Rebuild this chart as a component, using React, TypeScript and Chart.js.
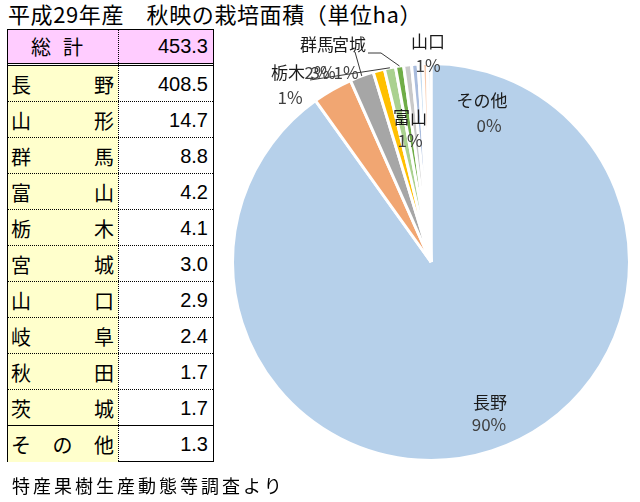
import React, { useEffect, useRef } from 'react';
import { Chart, registerables } from 'chart.js';

Chart.register(...registerables);

const titleText = '平成29年産　秋映の栽培面積（単位ha）';
const sourceText = '特産果樹生産動態等調査より';
const totalName = '総計';
const totalValue = 453.3;
const categories = ['長野', '山形', '群馬', '富山', '栃木', '宮城', '山口', '岐阜', '秋田', '茨城', 'その他'];
const values = [408.5, 14.7, 8.8, 4.2, 4.1, 3.0, 2.9, 2.4, 1.7, 1.7, 1.3];
const sliceColors = ['#B6D0EA', '#F1A672', '#A6A6A6', '#FFC000', '#AAD18F', '#70AD47', '#C9C9C9', '#A9BCDD', '#C5DCF0', '#F8CBAD', '#DEEBF7'];

// label placement (canvas coords)
const labelLayout: Record<number, { n?: [number, number]; p?: [number, number]; lead?: [number, number][] }> = {
  0: { n: [268, 373], p: [267, 395] },
  1: { p: [101, 43] },
  2: { n: [95, 15], p: [95, 43] },
  4: { n: [66, 43], p: [68, 68], lead: [[88, 50]] },
  5: { n: [127, 15], p: [124, 43], lead: [[146, 23], [159, 23]] },
  6: { n: [206, 12], p: [206, 36] },
  3: { n: [188, 88], p: [188, 111] },
  10: { n: [260, 71], p: [267, 96] },
};
const gunmaLead: [number, number] = [133, 22];

const labelPlugin = {
  id: 'pieLabels',
  afterDatasetsDraw(chart: any) {
    const ctx = chart.ctx;
    const meta = chart.getDatasetMeta(0);
    ctx.save();
    ctx.font = '17px "Noto Sans CJK JP", sans-serif';
    ctx.textAlign = 'center';
    ctx.textBaseline = 'middle';
    ctx.strokeStyle = '#3a3a3a';
    ctx.lineWidth = 1;
    const edge = (i: number) => {
      const a: any = meta.data[i];
      const mid = (a.startAngle + a.endAngle) / 2;
      return [a.x + Math.cos(mid) * a.outerRadius, a.y + Math.sin(mid) * a.outerRadius];
    };
    [4, 5].forEach((i) => {
      const L = labelLayout[i];
      if (!L.lead) return;
      const [ex, ey] = edge(i);
      ctx.beginPath();
      ctx.moveTo(L.lead[0][0], L.lead[0][1]);
      for (let k = 1; k < L.lead.length; k++) ctx.lineTo(L.lead[k][0], L.lead[k][1]);
      ctx.lineTo(ex, ey);
      ctx.stroke();
    });
    {
      const [ex, ey] = edge(2);
      ctx.beginPath();
      ctx.moveTo(gunmaLead[0], gunmaLead[1]);
      ctx.lineTo(ex, ey);
      ctx.stroke();
    }
    const order = [0, 10, 3, 6, 1, 2, 5, 4];
    order.forEach((i) => {
      const L = labelLayout[i];
      const pct = Math.round((values[i] / totalValue) * 100) + '%';
      ctx.fillStyle = '#1a1a1a';
      if (L.n) ctx.fillText(categories[i], L.n[0], L.n[1]);
      ctx.fillStyle = '#404040';
      if (L.p) ctx.fillText(pct, L.p[0], L.p[1]);
    });
    ctx.restore();
  },
};

const cellFont = '"Noto Sans CJK JP", sans-serif';
const numFont = '"Liberation Sans", Arial, sans-serif';

function NameCell({ name }: { name: string }) {
  const chars = Array.from(name);
  return (
    <div style={{ display: 'flex', justifyContent: 'space-between', alignItems: 'center', height: '100%', padding: '0 4px 0 3px', boxSizing: 'border-box' }}>
      {chars.map((c, i) => (
        <span key={i}>{c}</span>
      ))}
    </div>
  );
}

export default function App() {
  const ref = useRef<HTMLCanvasElement | null>(null);
  useEffect(() => {
    document.body.style.margin = '0';
    const chart = new Chart(ref.current as HTMLCanvasElement, {
      type: 'pie',
      data: {
        labels: categories,
        datasets: [
          {
            data: values,
            backgroundColor: sliceColors,
            borderColor: '#ffffff',
            borderWidth: 3,
          },
        ],
      },
      options: {
        responsive: false,
        animation: false,
        layout: { padding: { left: 9, right: 9, top: 32, bottom: 40 } },
        plugins: { legend: { display: false }, tooltip: { enabled: false } },
      },
      plugins: [labelPlugin],
    });
    return () => chart.destroy();
  }, []);

  const rowTop = 65;
  const rowH = 36;
  return (
    <div style={{ position: 'absolute', left: 0, top: 0, width: 640, height: 502, background: '#fff', overflow: 'hidden', fontFamily: cellFont }}>
      <div style={{ position: 'absolute', left: 8, top: 0, fontSize: 22, lineHeight: '26px', letterSpacing: '0.6px', color: '#000', whiteSpace: 'nowrap' }}>{titleText}</div>
      <canvas ref={ref} width={418} height={472} style={{ position: 'absolute', left: 222, top: 30, width: 418, height: 472 }} />
      {/* table */}
      <div style={{ position: 'absolute', left: 7, top: 29, width: 207, height: 433, border: '1.5px solid #000', boxSizing: 'border-box', background: '#fff' }} />
      <div style={{ position: 'absolute', left: 8, top: 30, width: 205, height: 33, background: '#FFCCFF', fontSize: 20 }}>
        <div style={{ position: 'absolute', left: 23, top: 0, height: 33, display: 'flex', alignItems: 'center', letterSpacing: '12px' }}>{totalName}</div>
        <div style={{ position: 'absolute', right: 5, top: 0, height: 33, display: 'flex', alignItems: 'center', fontFamily: numFont }}>{totalValue.toFixed(1)}</div>
      </div>
      <div style={{ position: 'absolute', left: 8, top: 63, width: 205, height: 3, borderTop: '1px solid #000', borderBottom: '1px solid #000', boxSizing: 'border-box' }} />
      {categories.map((c, i) => (
        <div key={c} style={{ position: 'absolute', left: 8, top: rowTop + rowH * i + 1, width: 205, height: rowH, fontSize: 20 }}>
          <div style={{ position: 'absolute', left: 0, top: 0, width: 110, height: rowH, background: '#FFFFCC' }}>
            <NameCell name={c} />
          </div>
          <div style={{ position: 'absolute', right: 5, top: 0, height: rowH, display: 'flex', alignItems: 'center', fontFamily: numFont }}>{values[i].toFixed(1)}</div>
          {i < categories.length - 1 && (
            <div style={{ position: 'absolute', left: 0, top: rowH - 1, width: 205, height: 0, borderTop: i === categories.length - 2 ? '1.5px solid #000' : '1px dotted #000' }} />
          )}
        </div>
      ))}
      <div style={{ position: 'absolute', left: 118, top: 30, width: 0, height: 431, borderLeft: '1px dotted #000' }} />
      <div style={{ position: 'absolute', left: 12, top: 472, fontSize: 18, lineHeight: '26px', letterSpacing: '3px', whiteSpace: 'nowrap' }}>{sourceText}</div>
    </div>
  );
}
